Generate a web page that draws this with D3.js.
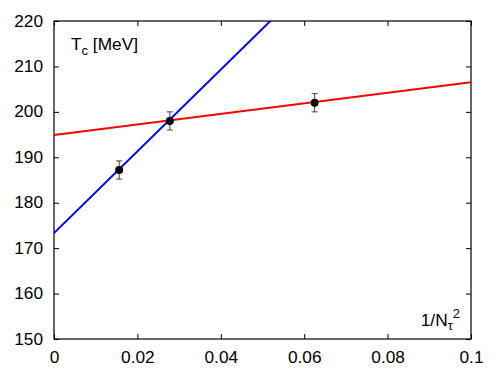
<!DOCTYPE html>
<html lang="en">
<head>
<meta charset="UTF-8">
<title>Tc vs 1/Ntau^2</title>
<script src="https://cdn.jsdelivr.net/npm/d3@7"></script>
<style>
  body { margin: 0; background: #fff; }
  text { font-family: "Liberation Sans", Arial, sans-serif; }
  .axis path, .axis line { stroke: #000; }
</style>
</head>
<body>
<script>
// data
var xs = [1/64, 1/36, 1/16];
var tc = [187.2, 198.0, 202.0];
var err = [2.0, 2.0, 2.0];
var blueFit = [173.3, 900];   // intercept, slope
var redFit = [194.9, 116];
var xTicks = [0, 0.02, 0.04, 0.06, 0.08, 0.1];
var yTicks = [150, 160, 170, 180, 190, 200, 210, 220];

var margin = {top: 21, right: 27, bottom: 36, left: 54},
    W = 498, H = 375,
    w = W - margin.left - margin.right,
    h = H - margin.top - margin.bottom;

// the original font is a bit wider than Liberation Sans
function stretch(sel, k) {
  sel.each(function() {
    var l = this.getComputedTextLength();
    d3.select(this).attr("textLength", l * k).attr("lengthAdjust", "spacingAndGlyphs");
  });
}

var svg = d3.select("body").append("svg")
  .attr("width", W).attr("height", H);
var g = svg.append("g")
  .attr("transform", "translate(" + margin.left + "," + margin.top + ")");

var x = d3.scaleLinear().domain([0, 0.1]).range([0, w]);
var y = d3.scaleLinear().domain([150, 220]).range([h, 0]);

g.append("defs").append("clipPath").attr("id", "clip")
  .append("rect").attr("width", w).attr("height", h);

// axes with inward ticks
var fmtX = function(d) { return d === 0 ? "0" : String(+d.toFixed(2)); };
g.append("g").attr("class", "axis")
  .attr("transform", "translate(0," + h + ")")
  .call(d3.axisBottom(x).tickValues(xTicks).tickSize(-5).tickPadding(13).tickFormat(fmtX))
  .call(function(s) { s.selectAll("text").style("font-size", "16px"); s.select(".domain").remove(); });
g.append("g").attr("class", "axis")
  .call(d3.axisTop(x).tickValues(xTicks).tickSize(-5).tickFormat(""))
  .call(function(s) { s.select(".domain").remove(); });
g.append("g").attr("class", "axis")
  .call(d3.axisLeft(y).tickValues(yTicks).tickSize(-5).tickPadding(11))
  .call(function(s) { s.selectAll("text").style("font-size", "16px"); s.select(".domain").remove(); });
g.append("g").attr("class", "axis")
  .attr("transform", "translate(" + w + ",0)")
  .call(d3.axisRight(y).tickValues(yTicks).tickSize(-5).tickFormat(""))
  .call(function(s) { s.select(".domain").remove(); });
stretch(g.selectAll(".axis text"), 1.08);

g.append("rect").attr("width", w).attr("height", h)
  .attr("fill", "none").attr("stroke", "#000").attr("stroke-width", 1.2);

// fit lines
var lines = g.append("g").attr("clip-path", "url(#clip)");
[[redFit, "#ff0000"], [blueFit, "#0000ff"]].forEach(function(f) {
  var p = f[0];
  lines.append("line")
    .attr("x1", x(0)).attr("y1", y(p[0]))
    .attr("x2", x(0.1)).attr("y2", y(p[0] + p[1] * 0.1))
    .attr("stroke", f[1]).attr("stroke-width", 2);
});

// error bars and points
var pts = g.selectAll(".pt").data(xs.map(function(d, i) { return {x: d, y: tc[i], e: err[i]}; }))
  .enter().append("g").attr("class", "pt");
pts.append("line")
  .attr("x1", function(d) { return x(d.x); }).attr("x2", function(d) { return x(d.x); })
  .attr("y1", function(d) { return y(d.y - d.e); }).attr("y2", function(d) { return y(d.y + d.e); })
  .attr("stroke", "#444").attr("stroke-width", 1);
[-1, 1].forEach(function(s) {
  pts.append("line")
    .attr("x1", function(d) { return x(d.x) - 3; }).attr("x2", function(d) { return x(d.x) + 3; })
    .attr("y1", function(d) { return y(d.y + s * d.e); }).attr("y2", function(d) { return y(d.y + s * d.e); })
    .attr("stroke", "#444").attr("stroke-width", 1);
});
pts.append("circle")
  .attr("cx", function(d) { return x(d.x); }).attr("cy", function(d) { return y(d.y); })
  .attr("r", 4).attr("fill", "#000");

// labels
var t1 = g.append("text").attr("x", 17).attr("y", 29).style("font-size", "16px");
t1.append("tspan").text("T");
t1.append("tspan").attr("dy", 5).style("font-size", "12px").text("c");
t1.append("tspan").attr("dy", -5).text(" [MeV]");
stretch(t1, 1.08);

var t2 = g.append("text").attr("x", w - 11).attr("y", h - 13)
  .attr("text-anchor", "end").style("font-size", "16px");
t2.append("tspan").text("1/N");
t2.append("tspan").attr("dy", 4).style("font-size", "12px").text("\u03c4");
t2.append("tspan").attr("dy", -12).style("font-size", "12px").text("2");
stretch(t2, 1.08);
</script>
</body>
</html>
